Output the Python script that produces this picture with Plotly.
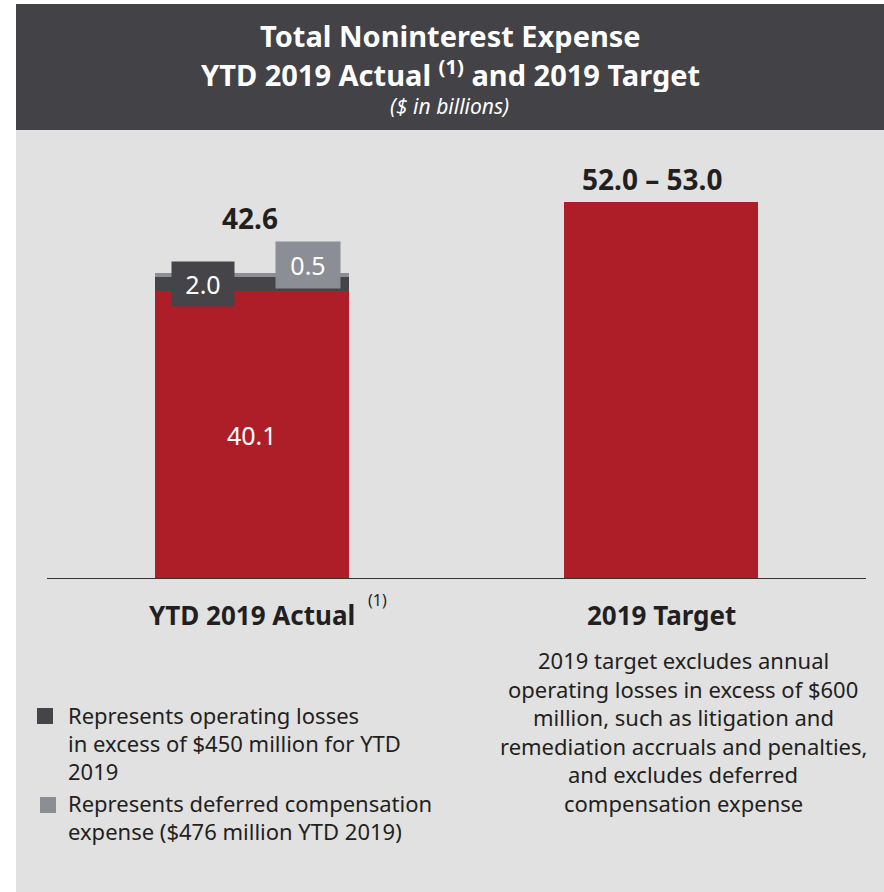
import plotly.graph_objects as go

# ---- data ----
categories = ["YTD 2019 Actual", "2019 Target"]
base_expense = [40.1, 52.5]          # red bars (target drawn at range midpoint 52.0-53.0)
operating_losses = [2.0, None]       # dark segment
deferred_comp = [0.5, None]          # light segment
total_label = ["42.6", "52.0 – 53.0"]
base_label = ["40.1", ""]
seg_labels = ["2.0", "0.5"]

title_lines = ["Total Noninterest Expense", "YTD 2019 Actual <sup>(1)</sup> and 2019 Target"]
subtitle = "($ in billions)"
legend_lines_dark = ["Represents operating losses", "in excess of $450 million for YTD", "2019"]
legend_lines_light = ["Represents deferred compensation", "expense ($476 million YTD 2019)"]
target_note = ["2019 target excludes annual", "operating losses in excess of $600",
               "million, such as litigation and", "remediation accruals and penalties,",
               "and excludes deferred", "compensation expense"]

RED = "#ae1e28"
DARK = "#444449"
LIGHT = "#8c8e95"
PANEL = "#e1e1e1"
HEADER = "#424247"
TXT = "#231f20"
FONT = "Noto Sans"

W, H = 884, 892
def px(x):
    return x / W
def py(y):
    return 1 - y / H

fig = go.Figure()
xpos = [0, 1]
fig.add_trace(go.Bar(x=xpos, y=base_expense, marker=dict(color=RED, line=dict(width=0)),
                     width=0.474, hoverinfo="skip"))
fig.add_trace(go.Bar(x=xpos, y=operating_losses, marker=dict(color=DARK, line=dict(width=0)),
                     width=0.474, hoverinfo="skip"))
fig.add_trace(go.Bar(x=xpos, y=deferred_comp, marker=dict(color=LIGHT, line=dict(width=0)),
                     width=0.474, hoverinfo="skip"))

shapes = [
    dict(type="rect", xref="paper", yref="paper", x0=px(16), x1=1, y0=py(892), y1=py(130),
         fillcolor=PANEL, line=dict(width=0), layer="below"),
    dict(type="rect", xref="paper", yref="paper", x0=px(16), x1=1, y0=py(130), y1=py(4),
         fillcolor=HEADER, line=dict(width=0), layer="below"),
    dict(type="line", xref="paper", yref="y", x0=px(47), x1=px(866), y0=0, y1=0,
         line=dict(color="#333333", width=2), layer="above"),
    dict(type="rect", xref="paper", yref="paper", x0=px(37), x1=px(53), y0=py(724), y1=py(708),
         fillcolor=DARK, line=dict(width=0)),
    dict(type="rect", xref="paper", yref="paper", x0=px(40), x1=px(56), y0=py(813), y1=py(797),
         fillcolor=LIGHT, line=dict(width=0)),
]

ann = []
def pann(x, y, text, size, color=TXT, xanchor="center", height=None):
    d = dict(x=px(x), y=py(y), xref="paper", yref="paper", text=text, showarrow=False,
             xanchor=xanchor, yanchor="middle",
             font=dict(family=FONT, size=size, color=color))
    if height:
        d["height"] = height
    ann.append(d)

# header
pann(450, 35, "<b>" + title_lines[0] + "</b>", 29, "white", height=36)
pann(450, 73, "<b>" + title_lines[1] + "</b>", 29, "white", height=38)
pann(449, 106, "<i>" + subtitle + "</i>", 21, "white", height=26)

# totals above bars
totals = [base_expense[0] + operating_losses[0] + deferred_comp[0], base_expense[1]]
ann.append(dict(x=xpos[0], y=totals[0], text="<b>" + total_label[0] + "</b>", showarrow=False,
                yanchor="middle", yshift=55, xshift=-2, font=dict(family=FONT, size=28, color=TXT)))
ann.append(dict(x=xpos[1], y=totals[1], text="<b>" + total_label[1] + "</b>", showarrow=False,
                yanchor="middle", yshift=23, xshift=-9, font=dict(family=FONT, size=28, color=TXT)))
# inside label
ann.append(dict(x=xpos[0], y=base_expense[0] / 2, text=base_label[0], showarrow=False,
                yanchor="middle", font=dict(family=FONT, size=25, color="white")))
# segment boxes
ann.append(dict(x=xpos[0], y=base_expense[0] + operating_losses[0] / 2, text=seg_labels[0],
                showarrow=False, xshift=-49, width=60, height=42, bgcolor=DARK, yanchor="middle",
                font=dict(family=FONT, size=25, color="white")))
ann.append(dict(x=xpos[0], y=totals[0], text=seg_labels[1], showarrow=False, xshift=56, yshift=8,
                width=62, height=44, bgcolor=LIGHT, yanchor="middle",
                font=dict(family=FONT, size=25, color="white")))

# category labels
ann.append(dict(x=xpos[0], y=0, text="<b>" + categories[0] + "</b>", showarrow=False, yanchor="middle",
                yshift=-36, font=dict(family=FONT, size=26, color=TXT)))
ann.append(dict(x=xpos[0], y=0, text="(1)", showarrow=False, yanchor="middle",
                yshift=-21, xshift=126, font=dict(family=FONT, size=16, color=TXT)))
ann.append(dict(x=xpos[1], y=0, text="<b>" + categories[1] + "</b>", showarrow=False, yanchor="middle",
                yshift=-36, font=dict(family=FONT, size=26, color=TXT)))

# target note
note_y = [660, 688.5, 717, 745.5, 774, 802.5]
for t, yy in zip(target_note, note_y):
    pann(683, yy, t, 22, height=28)

# legend
for t, yy in zip(legend_lines_dark, [715, 743, 771]):
    pann(66, yy, t, 22, xanchor="left", height=28)
for t, yy in zip(legend_lines_light, [803, 831]):
    pann(66, yy, t, 22, xanchor="left", height=28)

fig.update_layout(
    width=W, height=H, autosize=False,
    margin=dict(l=0, r=0, t=0, b=0),
    paper_bgcolor="white", plot_bgcolor="rgba(0,0,0,0)",
    barmode="stack", showlegend=False, bargap=0,
    xaxis=dict(domain=[px(47), px(866)], range=[-0.5, 1.5], visible=False, fixedrange=True),
    yaxis=dict(domain=[py(579), py(140)], range=[0, 439 / 7.183], visible=False, fixedrange=True),
    shapes=shapes, annotations=ann,
)

fig.write_html("out.html", config={"displayModeBar": False},
               post_script="document.body.style.margin='0px';")
